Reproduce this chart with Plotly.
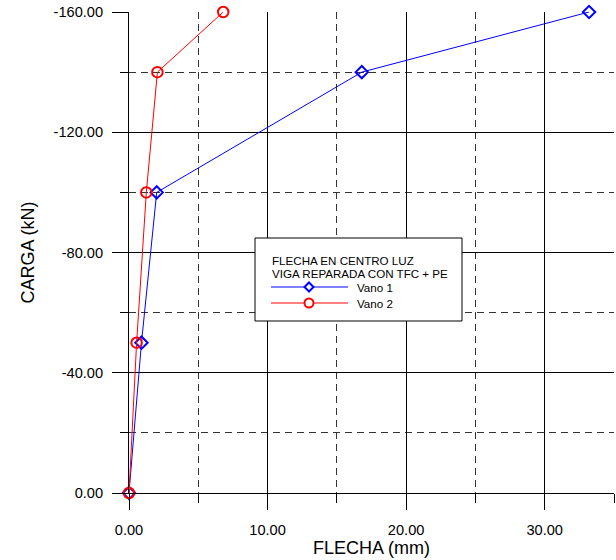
import plotly.graph_objects as go

# Deflection at mid-span (mm) vs load (kN) for the repaired beam
flecha_vano1 = [0.0, 0.9, 2.0, 16.8, 33.2]
carga_vano1 = [0.0, -50.0, -100.0, -140.0, -160.0]

flecha_vano2 = [0.0, 0.55, 1.25, 2.05, 6.8]
carga_vano2 = [0.0, -50.0, -100.0, -140.0, -160.0]

x_ticks = [0, 10, 20, 30]
y_ticks = [0, -40, -80, -120, -160]

legend_title = ["FLECHA EN CENTRO LUZ", "VIGA REPARADA CON TFC + PE"]
series_names = ["Vano 1", "Vano 2"]

FONT = "Liberation Sans, Arial, sans-serif"
BLUE = "#0000FF"
RED = "#FF0000"

W, H = 616, 560
ML, MR, MT, MB = 129, 2, 12, 67


def px_x(p):
    """Horizontal pixel position -> paper coordinate."""
    return (p - ML) / (W - ML - MR)


def px_y(p):
    """Vertical pixel position (from top) -> paper coordinate."""
    return (H - MB - p) / (H - MT - MB)


fig = go.Figure()
fig.add_trace(go.Scatter(
    x=flecha_vano1, y=carga_vano1, name=series_names[0], mode="lines+markers",
    line=dict(color=BLUE, width=1),
    marker=dict(symbol="diamond-open", size=9.5, color=BLUE, line=dict(width=2)),
    cliponaxis=False, showlegend=False,
))
fig.add_trace(go.Scatter(
    x=flecha_vano2, y=carga_vano2, name=series_names[1], mode="lines+markers",
    line=dict(color=RED, width=1),
    marker=dict(symbol="circle-open", size=10.5, color=RED, line=dict(width=2)),
    cliponaxis=False, showlegend=False,
))

axis_common = dict(
    showline=True, linecolor="black", linewidth=1, mirror=False,
    showgrid=True, gridcolor="black", gridwidth=1,
    ticks="outside", ticklen=16, tickcolor="black", tickwidth=1,
    zeroline=False,
    tickfont=dict(family=FONT, size=14.6, color="black"),
)

# Boxed legend drawn in the plot area
shapes = [
    dict(type="rect", xref="paper", yref="paper",
         x0=px_x(255), x1=px_x(462), y0=px_y(321), y1=px_y(238),
         line=dict(color="black", width=1), fillcolor="white", layer="above"),
]
annotations = []
for i, line_text in enumerate(legend_title):
    annotations.append(dict(
        xref="paper", yref="paper", x=px_x(270), y=px_y(260 + 13 * i),
        xanchor="left", yanchor="middle", showarrow=False, text=line_text,
        font=dict(family=FONT, size=11.6, color="black"),
    ))

for i, (name, color) in enumerate(zip(series_names, [BLUE, RED])):
    yc = px_y(287 + 16 * i)
    shapes.append(dict(
        type="line", xref="paper", yref="paper",
        x0=px_x(271), x1=px_x(348), y0=yc, y1=yc,
        line=dict(color=color, width=1), layer="above",
    ))
    if i == 0:
        shapes.append(dict(
            type="path", xref="paper", yref="paper",
            xsizemode="pixel", ysizemode="pixel",
            xanchor=px_x(309), yanchor=yc,
            path="M 0,4.5 L 4.5,0 L 0,-4.5 L -4.5,0 Z",
            line=dict(color=color, width=2), fillcolor="white", layer="above",
        ))
    else:
        shapes.append(dict(
            type="circle", xref="paper", yref="paper",
            xsizemode="pixel", ysizemode="pixel",
            xanchor=px_x(309), yanchor=yc,
            x0=-4.5, x1=4.5, y0=-4.5, y1=4.5,
            line=dict(color=color, width=2), fillcolor="white", layer="above",
        ))
    annotations.append(dict(
        xref="paper", yref="paper", x=px_x(355), y=yc,
        xanchor="left", yanchor="middle", showarrow=False, text=name,
        font=dict(family=FONT, size=11.6, color="black"),
    ))

fig.update_layout(
    width=W, height=H,
    margin=dict(l=ML, r=MR, t=MT, b=MB),
    paper_bgcolor="white", plot_bgcolor="white",
    font=dict(family=FONT, color="black"),
    showlegend=False,
    xaxis=dict(
        range=[0, 35], tickvals=x_ticks,
        ticktext=[f"{v:.2f}" for v in x_ticks],
        ticklabelstandoff=7,
        title=dict(text="FLECHA (mm)", font=dict(family=FONT, size=18), standoff=4),
        minor=dict(dtick=5, tick0=0, showgrid=True, gridcolor="#333333",
                   griddash="7px,5px", gridwidth=1, ticks="outside",
                   ticklen=9, tickcolor="black"),
        **axis_common,
    ),
    yaxis=dict(
        range=[0, -160], tickvals=y_ticks,
        ticktext=[f"{v:.2f}" for v in y_ticks],
        ticklabelstandoff=6,
        title=dict(text="CARGA (kN)", font=dict(family=FONT, size=18), standoff=14),
        minor=dict(dtick=20, tick0=0, showgrid=True, gridcolor="#333333",
                   griddash="7px,5px", gridwidth=1, ticks="outside",
                   ticklen=8, tickcolor="black"),
        **axis_common,
    ),
    shapes=shapes,
    annotations=annotations,
)

fig.write_html("out.html")
